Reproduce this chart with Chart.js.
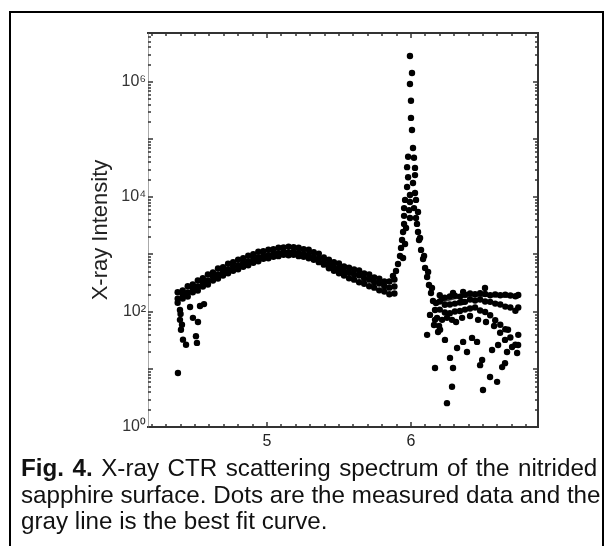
<!DOCTYPE html>
<html>
<head>
<meta charset="utf-8">
<script src="https://cdn.jsdelivr.net/npm/chart.js@4.4.1/dist/chart.umd.min.js"></script>
<style>
  html, body { margin: 0; padding: 0; background: #fff; }
  #wrap { position: relative; width: 609px; height: 546px; overflow: hidden; }
  #frame { position: absolute; left: 9px; top: 11px; width: 591px; height: 540px; border: 2px solid #000; border-bottom: none; }
  #chart { position: absolute; left: 0; top: 0; }
  #caption { position: absolute; left: 21px; top: 455px; font-family: "Liberation Sans", Arial, sans-serif; font-size: 24.2px; line-height: 26.5px; color: #111; white-space: nowrap; }
  #caption .wide { word-spacing: 1.8px; }
</style>
</head>
<body>
<div id="wrap">
  <div id="frame"></div>
  <canvas id="chart" width="609" height="546"></canvas>
  <div id="caption"><span class="wide"><b>Fig. 4.</b> X-ray CTR scattering spectrum of the nitrided</span><br>sapphire surface. Dots are the measured data and the<br>gray line is the best fit curve.</div>
</div>
<script>
// measured dots, broad hump (top / middle / bottom of the dotted band)
const qBand = [4.38, 4.415, 4.45, 4.485, 4.52, 4.555, 4.59, 4.625, 4.66, 4.695, 4.73, 4.765, 4.80, 4.835, 4.87, 4.905, 4.94, 4.975, 5.01, 5.045, 5.08, 5.115, 5.15, 5.185, 5.22, 5.255, 5.29, 5.325, 5.36, 5.395, 5.43, 5.465, 5.50, 5.535, 5.57, 5.605, 5.64, 5.675, 5.71, 5.745, 5.78, 5.815, 5.85, 5.885];
const bandHigh = [220, 236, 280, 300, 352, 385, 450, 488, 570, 600, 690, 735, 815, 860, 950, 1010, 1120, 1140, 1210, 1235, 1310, 1330, 1370, 1340, 1310, 1230, 1210, 1090, 1035, 890, 815, 735, 695, 620, 590, 550, 525, 470, 448, 400, 380, 340, 338, 368];
const bandMid = [170, 200, 218, 256, 278, 325, 352, 412, 450, 505, 550, 615, 650, 720, 760, 845, 895, 950, 970, 1030, 1050, 1115, 1095, 1110, 1070, 1010, 990, 895, 845, 735, 665, 598, 565, 510, 482, 452, 430, 385, 365, 328, 312, 280, 265, 278];
const bandLow = [145, 172, 186, 220, 236, 278, 300, 352, 382, 430, 470, 522, 552, 612, 648, 720, 762, 842, 860, 915, 935, 990, 972, 988, 935, 912, 860, 810, 735, 665, 575, 522, 470, 430, 385, 365, 328, 310, 280, 265, 238, 226, 203, 210];

// low stray dots at the start of the scan
const qStart = [4.382, 4.396, 4.396, 4.403, 4.417, 4.438, 4.466, 4.486, 4.507, 4.521, 4.535, 4.563, 4.514, 4.40, 4.41];
const iStart = [8.7, 108, 73, 49, 33, 27, 122, 79, 38, 67, 127, 137, 29, 92, 60];

// Bragg peak and its flanks
const qPeak = [5.993, 6.007, 5.993, 6.0, 6.0, 6.007, 6.014, 5.98, 6.021, 5.973, 6.028, 5.98, 6.028, 5.973, 6.014, 5.993, 6.028,
  5.959, 5.993, 6.035, 5.952, 5.987, 6.021, 6.049, 5.952, 5.993, 6.035,
  5.952, 5.945, 5.938, 5.931, 5.924, 5.91, 5.896, 5.875, 5.966, 5.959, 5.945,
  6.042, 6.049, 6.056, 6.07, 6.084, 6.098, 6.112, 6.125, 6.139, 6.153, 6.167, 6.181, 6.195, 6.063, 6.091, 6.119, 6.146, 6.174];
const iPeak = [2.83e6, 1.43e6, 9.2e5, 4.7e5, 2.37e5, 1.46e5, 7.1e4, 5.0e4, 4.8e4, 3.3e4, 3.2e4, 2.2e4, 2.4e4, 1.49e4, 1.75e4, 1.08e4, 1.17e4,
  8900, 8200, 8900, 6400, 5900, 6400, 5500, 4700, 4300, 4300,
  3400, 2460, 1790, 1300, 942, 684, 516, 423, 2890, 1520, 869,
  3400, 2460, 1790, 1200, 835, 582, 406, 295, 214, 155, 108, 79, 57, 1940, 942, 496, 261, 143];

// dotted band above the peak
const qTail = [6.20, 6.235, 6.27, 6.305, 6.34, 6.375, 6.41, 6.445, 6.48, 6.515, 6.55, 6.585, 6.62, 6.655, 6.69, 6.725, 6.745];
const tailHigh = [195, 178, 186, 192, 185, 200, 210, 204, 212, 205, 196, 202, 195, 200, 194, 188, 198];
const tailMid = [152, 134, 135, 140, 146, 150, 165, 158, 165, 152, 150, 140, 135, 124, 120, 105, 120];
const tailLow = [110, 98, 95, 102, 104, 110, 115, 120, 106, 100, 88, 72, 60, 50, 36, 27, 40];

// scattered dots above the peak
const qScatter = [6.514, 6.362, 6.292, 6.216, 6.355, 6.167, 6.188, 6.112, 6.236, 6.362, 6.424, 6.459, 6.32, 6.389, 6.271, 6.494, 6.167, 6.292,
  6.633, 6.653, 6.48, 6.549, 6.598, 6.285, 6.5, 6.25, 6.563, 6.667, 6.737, 6.355, 6.41, 6.466, 6.521, 6.577, 6.619, 6.653, 6.702, 6.744,
  6.605, 6.674, 6.132, 6.16, 6.202, 6.216, 6.25, 6.285, 6.313];
const iScatter = [261, 223, 214, 175, 149, 73, 45, 40, 32.7, 30.2, 35.4, 30.2, 23.6, 20.1, 15.9, 14.6, 10.6, 10.6,
  11.0, 12.9, 11.9, 7.4, 6.1, 5.0, 4.4, 2.6, 21.8, 20.1, 19.3, 79, 85, 73, 67, 57, 43.5, 32.7, 24.6, 26.6,
  26.6, 49, 89, 59.5, 49, 73, 79, 73, 67];

// best fit curve where it shows
const qFit = [6.2, 6.3, 6.4, 6.5, 6.6, 6.7, 6.75];
const iFit = [150, 175, 190, 195, 190, 185, 180];

// axis labels
const xLabelValues = [5, 6];
const yLabelValues = [1, 100, 1e4, 1e6];
const yLabels = ["10\u2070", "10\u00B2", "10\u2074", "10\u2076"];

const fontFamily = '"Liberation Sans", Arial, sans-serif';
const ctx = document.getElementById("chart");

function pairs(qs, is) {
  return qs.map((q, k) => ({ x: q, y: is[k] }));
}

const measured = [
  ...pairs(qBand, bandHigh), ...pairs(qBand, bandMid), ...pairs(qBand, bandLow),
  ...pairs(qStart, iStart),
  ...pairs(qPeak, iPeak),
  ...pairs(qTail, tailHigh), ...pairs(qTail, tailMid), ...pairs(qTail, tailLow),
  ...pairs(qScatter, iScatter),
];

function xTicks(scale) {
  const ticks = [];
  for (let k = 42; k <= 68; k++) {
    const v = k / 10;
    ticks.push({ value: v, major: xLabelValues.includes(v) });
  }
  scale.ticks = ticks;
}

function yTicks(scale) {
  const ticks = [];
  for (let e = 0; e <= 6; e++) {
    for (let m = 1; m <= 9; m++) {
      const v = m * Math.pow(10, e);
      if (v <= scale.max) ticks.push({ value: v, major: m === 1 });
    }
  }
  scale.ticks = ticks;
}

// small tick marks pointing into the plot
const inwardTicks = {
  id: "inwardTicks",
  afterDraw(chart) {
    const c = chart.ctx;
    const a = chart.chartArea;
    c.save();
    c.strokeStyle = "#333";
    c.lineWidth = 1.5;
    for (const id of ["x", "x2", "y", "y2"]) {
      const s = chart.scales[id];
      s.ticks.forEach((t) => {
        const p = Math.round(s.getPixelForValue(t.value));
        const len = t.major ? 5 : 3;
        c.beginPath();
        if (id === "x") { c.moveTo(p, a.bottom); c.lineTo(p, a.bottom - len); }
        if (id === "x2") { c.moveTo(p, a.top); c.lineTo(p, a.top + len); }
        if (id === "y") { c.moveTo(a.left, p); c.lineTo(a.left + len, p); }
        if (id === "y2") { c.moveTo(a.right, p); c.lineTo(a.right - len, p); }
        c.stroke();
      });
    }
    c.restore();
  },
};

const noGrid = { display: false, drawTicks: false };

new Chart(ctx, {
  type: "scatter",
  data: {
    datasets: [
      {
        label: "measured",
        data: measured,
        backgroundColor: "#000",
        borderWidth: 0,
        pointRadius: 3.2,
        pointHoverRadius: 3.2,
        order: 1,
      },
      {
        label: "fit",
        data: pairs(qFit, iFit),
        showLine: true,
        borderColor: "#444",
        borderWidth: 3,
        pointRadius: 0,
        order: 2,
      },
    ],
  },
  options: {
    responsive: false,
    animation: false,
    events: [],
    layout: { padding: { left: 84, top: 33, right: 71, bottom: 99 } },
    plugins: { legend: { display: false }, tooltip: { enabled: false } },
    scales: {
      x: {
        type: "linear",
        position: "bottom",
        min: 4.174,
        max: 6.882,
        afterBuildTicks: xTicks,
        afterFit: (s) => { s.height = 20; },
        grid: noGrid,
        border: { display: true, color: "#333", width: 2 },
        ticks: {
          autoSkip: false,
          maxRotation: 0,
          padding: 5,
          color: "#222",
          font: { family: fontFamily, size: 16 },
          callback: (v) => (xLabelValues.includes(v) ? String(v) : ""),
        },
      },
      x2: {
        type: "linear",
        position: "top",
        min: 4.174,
        max: 6.882,
        afterBuildTicks: xTicks,
        afterFit: (s) => { s.height = 0; },
        grid: noGrid,
        border: { display: true, color: "#333", width: 2 },
        ticks: { display: false },
      },
      y: {
        type: "logarithmic",
        position: "left",
        min: 1,
        max: 7.1e6,
        afterBuildTicks: yTicks,
        afterFit: (s) => { s.width = 64; },
        grid: noGrid,
        border: { display: true, color: "#aaa", width: 1, dash: [1, 3] },
        title: {
          display: true,
          text: "X-ray Intensity",
          color: "#222",
          font: { family: fontFamily, size: 22 },
          padding: { top: 4, bottom: 4 },
        },
        ticks: {
          autoSkip: false,
          padding: 2,
          color: "#333",
          font: { family: fontFamily, size: 16 },
          callback: (v) => {
            const k = yLabelValues.indexOf(v);
            return k >= 0 ? yLabels[k] : "";
          },
        },
      },
      y2: {
        type: "logarithmic",
        position: "right",
        min: 1,
        max: 7.1e6,
        afterBuildTicks: yTicks,
        afterFit: (s) => { s.width = 0; },
        grid: noGrid,
        border: { display: true, color: "#333", width: 2 },
        ticks: { display: false },
      },
    },
  },
  plugins: [inwardTicks],
});
</script>
</body>
</html>
